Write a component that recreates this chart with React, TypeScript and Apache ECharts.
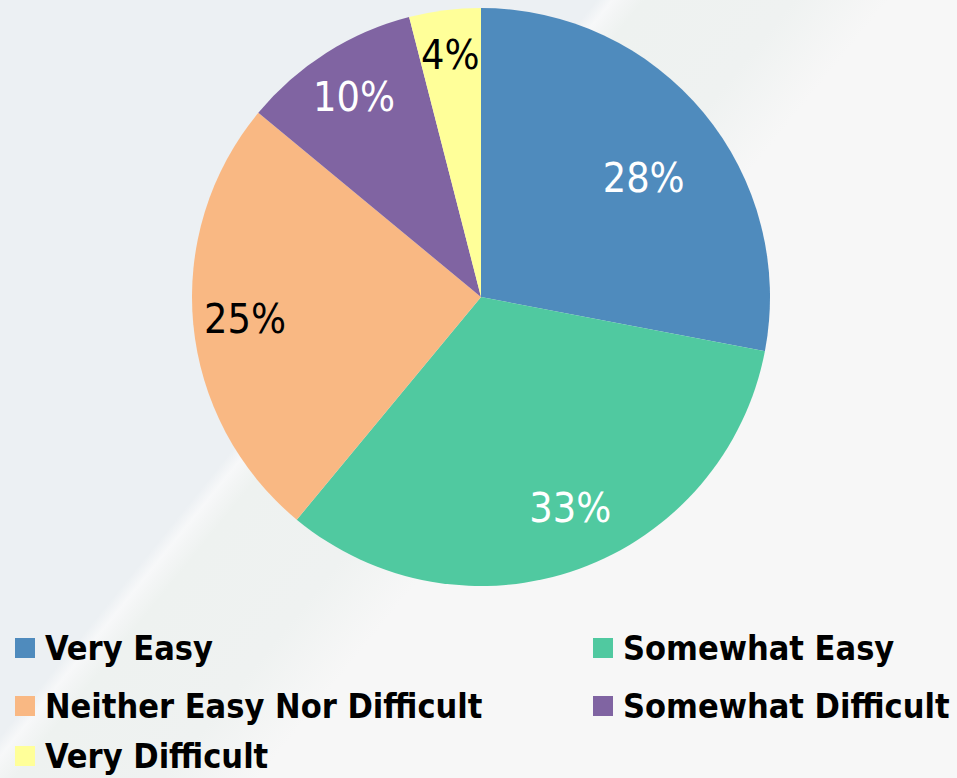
import React, { useEffect, useRef } from "react";
import * as echarts from "echarts";

const categories = [
  "Very Easy",
  "Somewhat Easy",
  "Neither Easy Nor Difficult",
  "Somewhat Difficult",
  "Very Difficult",
];
const percentValues = [28, 33, 25, 10, 4];
const sliceColors = ["#4F8BBD", "#50C9A0", "#F9B883", "#8064A2", "#FFFF99"];
const labelColors = ["#FFFFFF", "#FFFFFF", "#000000", "#FFFFFF", "#000000"];

const FONT = "'DejaVu Sans Condensed', 'DejaVu Sans', sans-serif";
const CX = 481;
const CY = 297;
const R = 289;

export default function App() {
  const ref = useRef<HTMLDivElement>(null);
  useEffect(() => {
    if (!ref.current) return;
    const chart = echarts.init(ref.current, undefined, { renderer: "svg" });
    const data = categories.map((name, i) => ({
      name,
      value: percentValues[i],
      itemStyle: { color: sliceColors[i] },
    }));
    const labelData = categories.map((name, i) => ({
      name,
      value: percentValues[i],
      itemStyle: { color: "rgba(0,0,0,0)" },
      label: { color: labelColors[i] },
    }));
    const legendRows = [
      { name: categories[0], left: 15, top: 631 },
      { name: categories[1], left: 593, top: 631 },
      { name: categories[2], left: 15, top: 689 },
      { name: categories[3], left: 593, top: 689 },
      { name: categories[4], left: 15, top: 739 },
    ];
    chart.setOption({
      animation: false,
      backgroundColor: "transparent",
      legend: legendRows.map((r) => ({
        data: [r.name],
        left: r.left,
        top: r.top,
        padding: 0,
        icon: "rect",
        itemWidth: 20,
        itemHeight: 20,
        selectedMode: false,
        textStyle: {
          fontFamily: FONT,
          fontWeight: "bold",
          fontSize: 34,
          lineHeight: 30,
          color: "#000000",
          padding: [0, 0, 0, 5],
        },
      })),
      series: [
        {
          type: "pie",
          center: [CX, CY],
          radius: [0, R],
          startAngle: 90,
          clockwise: true,
          silent: true,
          label: { show: false },
          labelLine: { show: false },
          data,
        },
        {
          type: "pie",
          center: [CX, CY],
          radius: [R * 0.62, R],
          startAngle: 90,
          clockwise: true,
          silent: true,
          label: {
            show: true,
            position: "inside",
            formatter: "{c}%",
            fontFamily: FONT,
            fontSize: 41,
          },
          labelLine: { show: false },
          labelLayout: (p: any) => {
            if (p.dataIndex === 0) return { dx: -20, dy: 32 };
            if (p.dataIndex === 1) return { dx: 9, dy: -12 };
            if (p.dataIndex === 4) return { dx: -1, dy: -7 };
            return {};
          },
          data: labelData,
        },
      ],
    });
    return () => chart.dispose();
  }, []);
  return (
    <div
      style={{
        position: "fixed",
        left: 0,
        top: 0,
        width: 957,
        height: 778,
        background:
          "linear-gradient(129deg, #ECF0F3 0%, #ECF0F3 37.6%, #F7F8F9 38.6%, #F3F5F5 39.4%, #EEF2F0 40.6%, #EFF2F1 50%, #F7F7F7 56%, #F7F7F7 100%)",
      }}
    >
      <div ref={ref} style={{ width: 957, height: 778 }} />
    </div>
  );
}
